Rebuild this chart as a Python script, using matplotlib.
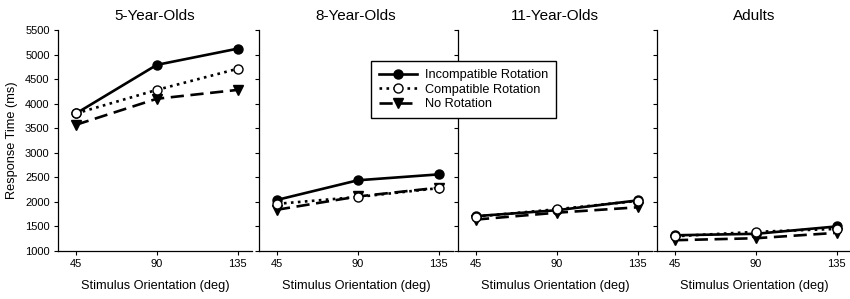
import matplotlib
matplotlib.use("Agg")
import matplotlib.pyplot as plt

plt.rcParams["font.family"] = ["Liberation Sans", "DejaVu Sans"]

orient = [45, 90, 135]
titles = ["5-Year-Olds", "8-Year-Olds", "11-Year-Olds", "Adults"]

# response times (ms) per group: [incompatible, compatible, no rotation]
incompat = [[3800, 4790, 5120], [2040, 2440, 2560], [1710, 1830, 2030], [1320, 1350, 1500]]
compat = [[3800, 4280, 4710], [1960, 2100, 2280], [1700, 1850, 2020], [1300, 1390, 1450]]
norot = [[3570, 4100, 4280], [1840, 2110, 2290], [1640, 1780, 1890], [1220, 1260, 1370]]

fig = plt.figure(figsize=(8.5, 2.99), dpi=100)
W, H = 850, 299
lefts = [58, 259, 458, 657]
width = 194
bottom = (H - 251) / H
height = (251 - 30) / H

axes = []
for i in range(4):
    ax = fig.add_axes([lefts[i] / W, bottom, width / W, height])
    axes.append(ax)
    l1, = ax.plot(orient, incompat[i], '-', color='k', lw=1.9, marker='o', ms=6.5,
                  mfc='k', mec='k', label='Incompatible Rotation', zorder=3)
    l2, = ax.plot(orient, compat[i], ':', color='k', lw=1.9, marker='o', ms=6.5,
                  mfc='white', mec='k', mew=1.0, label='Compatible Rotation', zorder=4)
    l3, = ax.plot(orient, norot[i], '--', color='k', lw=1.9, marker='v', ms=6.5,
                  mfc='k', mec='k', label='No Rotation', dashes=(5, 2.5), zorder=2)
    ax.set_xlim(35, 143)
    ax.set_ylim(1000, 5500)
    ax.set_xticks(orient)
    ax.set_yticks(range(1000, 5501, 500))
    ax.spines['top'].set_visible(False)
    ax.spines['right'].set_visible(False)
    ax.spines['left'].set_linewidth(0.9)
    ax.spines['bottom'].set_linewidth(0.9)
    ax.tick_params(direction='out', length=3, width=0.8, labelsize=8, pad=3)
    if i > 0:
        ax.tick_params(axis='y', labelleft=False)
    ax.set_title(titles[i], fontsize=11, pad=7)
    ax.set_xlabel("Stimulus Orientation (deg)", fontsize=9.2, labelpad=8)

axes[0].set_ylabel("Response Time (ms)", fontsize=9.2, labelpad=5)

fig.legend(handles=[l1, l2, l3], loc='upper left',
           bbox_to_anchor=(365 / W, 1 - 55 / H), fontsize=9.2,
           frameon=True, fancybox=False, edgecolor='k', framealpha=1,
           handlelength=3.0, borderpad=0.6, labelspacing=0.2, handletextpad=0.6)

fig.savefig("out.png", dpi=100)
